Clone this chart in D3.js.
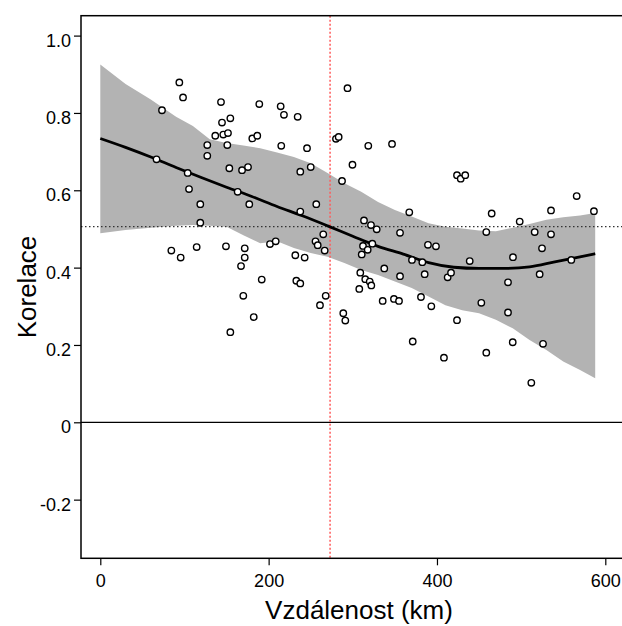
<!DOCTYPE html>
<html>
<head>
<meta charset="utf-8">
<script src="https://cdn.jsdelivr.net/npm/d3@7"></script>
<style>
  body { margin: 0; background: #fff; }
  text { font-family: "Liberation Sans", Arial, sans-serif; fill: #000; }
</style>
</head>
<body>
<div id="chart"></div>
<script>
// ─── Data ──────────────────────────────────────────────────────
const distance = [
  93.9, 98.3, 73.3, 143.4, 188.9, 214.3, 218.2, 234.5, 144.6, 154.5,
  136.6, 146.1, 151.7, 180.6, 186.5, 127.1, 150.9, 127.1, 215.0, 245.6,
  280.0, 283.2, 293.7, 66.8, 103.8, 153.3, 168.4, 175.5, 237.6, 250.0,
  287.2, 105.4, 163.2, 118.8, 177.0, 237.6, 256.6, 118.8, 299.6, 318.4,
  346.6, 423.8, 428.2, 433.6, 367.1, 465.0, 498.3, 535.5, 566.0, 586.5,
  313.3, 321.6, 328.4, 84.4, 95.5, 114.5, 149.3, 171.6, 171.6, 167.2,
  201.6, 208.4, 231.7, 242.8, 255.7, 258.3, 266.6, 264.9, 191.8, 232.9,
  237.6, 169.9, 267.8, 261.0, 182.3, 154.5, 288.7, 291.1, 356.1, 458.6,
  516.1, 535.5, 312.1, 317.7, 323.2, 310.6, 389.3, 398.8, 370.3, 382.6,
  438.9, 490.3, 524.8, 559.6, 337.4, 356.1, 385.4, 412.7, 416.7, 308.9,
  314.8, 320.1, 322.0, 307.7, 484.4, 522.0, 335.5, 348.9, 354.9, 381.0,
  393.3, 452.7, 484.4, 423.8, 371.2, 408.3, 458.6, 490.0, 526.0, 512.1
];
const correlation = [
  0.879, 0.840, 0.807, 0.828, 0.823, 0.817, 0.795, 0.790, 0.775, 0.786,
  0.741, 0.744, 0.748, 0.734, 0.741, 0.717, 0.717, 0.689, 0.715, 0.709,
  0.733, 0.738, 0.864, 0.680, 0.645, 0.657, 0.652, 0.660, 0.648, 0.660,
  0.624, 0.603, 0.596, 0.564, 0.564, 0.545, 0.564, 0.516, 0.666, 0.715,
  0.720, 0.639, 0.630, 0.639, 0.543, 0.540, 0.519, 0.548, 0.585, 0.546,
  0.522, 0.510, 0.499, 0.444, 0.426, 0.453, 0.455, 0.450, 0.426, 0.404,
  0.461, 0.468, 0.432, 0.426, 0.468, 0.458, 0.444, 0.486, 0.369, 0.366,
  0.359, 0.327, 0.327, 0.303, 0.272, 0.233, 0.282, 0.263, 0.490, 0.492,
  0.492, 0.486, 0.456, 0.446, 0.462, 0.434, 0.459, 0.455, 0.420, 0.414,
  0.417, 0.427, 0.450, 0.420, 0.398, 0.378, 0.383, 0.375, 0.387, 0.387,
  0.370, 0.364, 0.354, 0.345, 0.362, 0.383, 0.314, 0.319, 0.314, 0.324,
  0.300, 0.309, 0.284, 0.264, 0.209, 0.167, 0.180, 0.207, 0.203, 0.102
];

// smoothed fit and its confidence band
const fitX  = [0, 30, 60, 90, 120, 150, 180, 210, 240, 270, 300, 330, 360, 390, 420, 450, 480, 510, 540, 570, 588];
const fitY  = [0.734, 0.711, 0.686, 0.659, 0.633, 0.608, 0.584, 0.558, 0.534, 0.508, 0.481, 0.455, 0.435, 0.413, 0.401, 0.398, 0.398, 0.402, 0.415, 0.428, 0.436];

const bandX  = [0, 30, 60, 90, 110, 130, 150, 170, 190, 210, 230, 250, 270, 290, 310, 330, 350, 370, 390, 410, 430, 450, 470, 490, 510, 530, 550, 570, 588];
const bandLo = [0.489, 0.497, 0.503, 0.508, 0.510, 0.508, 0.506, 0.484, 0.463, 0.468, 0.451, 0.438, 0.428, 0.412, 0.394, 0.381, 0.364, 0.347, 0.325, 0.303, 0.290, 0.282, 0.265, 0.243, 0.213, 0.187, 0.157, 0.135, 0.114];
const bandHi = [0.925, 0.875, 0.835, 0.790, 0.766, 0.732, 0.722, 0.716, 0.709, 0.698, 0.686, 0.670, 0.645, 0.618, 0.596, 0.570, 0.549, 0.532, 0.515, 0.506, 0.501, 0.496, 0.494, 0.503, 0.513, 0.524, 0.530, 0.535, 0.541];

const meanCorr = 0.506;   // dotted horizontal
const cutDist = 273;      // red dotted vertical

const xTicks = [0, 200, 400, 600];
const yTicks = [-0.2, 0, 0.2, 0.4, 0.6, 0.8, 1.0];

// ─── Layout ────────────────────────────────────────────────────
const width = 622, height = 626;
const box = { left: 81, right: 623, top: 15.7, bottom: 558.3 };

const x = d3.scaleLinear().domain([0, 600]).range([100.3, 605.3]);
const y = d3.scaleLinear().domain([0, 1]).range([422.3, 35.6]);

const svg = d3.select('#chart').append('svg')
  .attr('width', width)
  .attr('height', height);

// band
const bandRows = bandX.map((d, i) => ({ x: d, lo: bandLo[i], hi: bandHi[i] }));
svg.append('path')
  .datum(bandRows)
  .attr('d', d3.area().x(d => x(d.x)).y0(d => y(d.lo)).y1(d => y(d.hi)))
  .attr('fill', '#b3b3b3');

// reference lines
svg.append('line')
  .attr('x1', box.left).attr('x2', box.right)
  .attr('y1', y(meanCorr)).attr('y2', y(meanCorr))
  .attr('stroke', '#333').attr('stroke-width', 1.3)
  .attr('stroke-dasharray', '1.5,2.5');

svg.append('line')
  .attr('x1', box.left).attr('x2', box.right)
  .attr('y1', y(0)).attr('y2', y(0))
  .attr('stroke', '#000').attr('stroke-width', 1.3);

svg.append('line')
  .attr('x1', x(cutDist)).attr('x2', x(cutDist))
  .attr('y1', box.top).attr('y2', box.bottom)
  .attr('stroke', '#ff5a5a').attr('stroke-width', 1.5)
  .attr('stroke-dasharray', '2,2');

// fit line
const fitRows = fitX.map((d, i) => ({ x: d, y: fitY[i] }));
svg.append('path')
  .datum(fitRows)
  .attr('d', d3.line().x(d => x(d.x)).y(d => y(d.y)).curve(d3.curveMonotoneX))
  .attr('fill', 'none')
  .attr('stroke', '#000')
  .attr('stroke-width', 2.8);

// points
const pts = distance.map((d, i) => ({ x: d, y: correlation[i] }));
svg.append('g')
  .selectAll('circle')
  .data(pts)
  .join('circle')
  .attr('cx', d => x(d.x))
  .attr('cy', d => y(d.y))
  .attr('r', 3.2)
  .attr('fill', '#fff')
  .attr('stroke', '#000')
  .attr('stroke-width', 1.4);

// box
svg.append('rect')
  .attr('x', box.left).attr('y', box.top)
  .attr('width', box.right - box.left)
  .attr('height', box.bottom - box.top)
  .attr('fill', 'none')
  .attr('stroke', '#000')
  .attr('stroke-width', 1.5);

// axes
const yAxis = svg.append('g')
  .attr('transform', `translate(${box.left},0)`)
  .call(d3.axisLeft(y).tickValues(yTicks).tickSize(7).tickPadding(3)
    .tickFormat(d => d === 0 ? '0' : d.toFixed(1)));
yAxis.select('.domain').remove();
yAxis.selectAll('text').attr('font-size', 18).attr('dy', 10.4)
  .attr('font-family', '"Liberation Sans", Arial, sans-serif');
yAxis.selectAll('line').attr('stroke-width', 1.2);

const xAxis = svg.append('g')
  .attr('transform', `translate(0,${box.bottom})`)
  .call(d3.axisBottom(x).tickValues(xTicks).tickSize(7).tickPadding(9));
xAxis.select('.domain').remove();
xAxis.selectAll('text').attr('font-size', 18)
  .attr('font-family', '"Liberation Sans", Arial, sans-serif');
xAxis.selectAll('line').attr('stroke-width', 1.2);

// titles
svg.append('text')
  .attr('x', 359).attr('y', 619)
  .attr('text-anchor', 'middle')
  .attr('font-size', 26)
  .text('Vzdálenost (km)');

svg.append('text')
  .attr('transform', `translate(36,${(box.top + box.bottom) / 2}) rotate(-90)`)
  .attr('text-anchor', 'middle')
  .attr('font-size', 26)
  .text('Korelace');
</script>
</body>
</html>
